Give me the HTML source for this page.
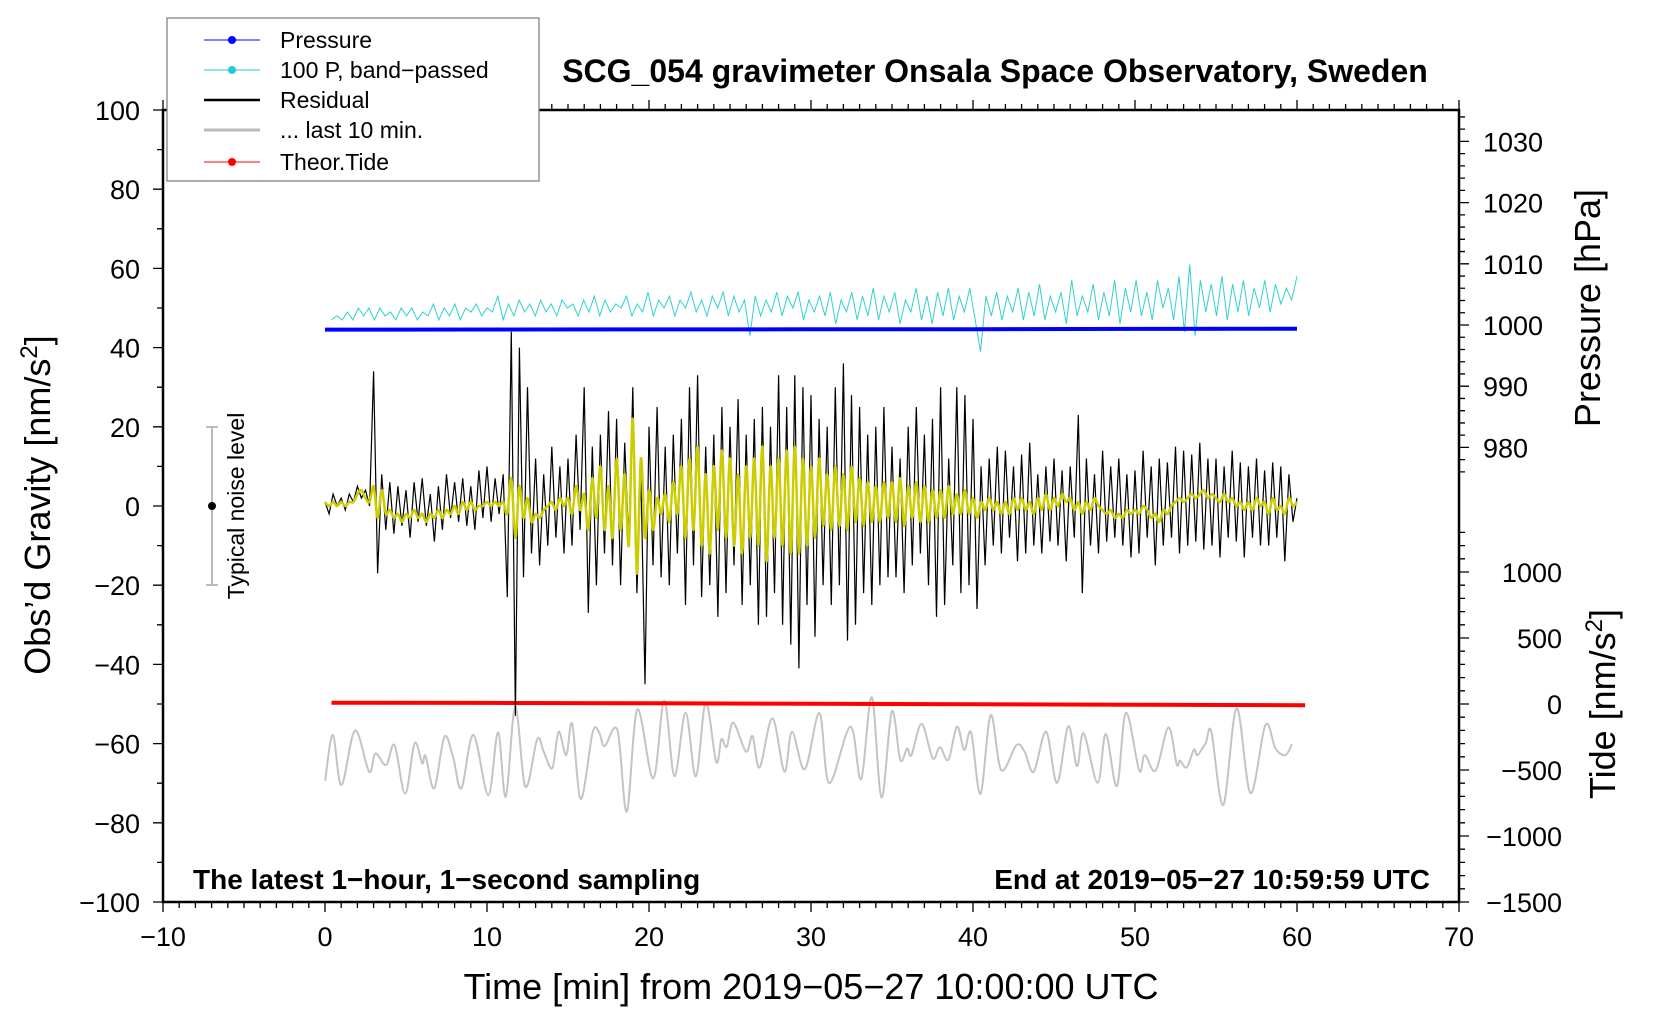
<!DOCTYPE html>
<html><head><meta charset="utf-8"><style>
html,body{margin:0;padding:0;background:#fff;}
svg{display:block;font-family:"Liberation Sans",Arial,sans-serif;}
</style></head><body>
<svg id="chart" width="1660" height="1020" viewBox="0 0 1660 1020" xmlns="http://www.w3.org/2000/svg">
<rect width="1660" height="1020" fill="#fff"/>
<g id="marks"></g>
<g id="axes"></g>
<text x="995" y="82" text-anchor="middle" font-weight="bold" font-size="32">SCG_054 gravimeter Onsala Space Observatory, Sweden</text>
<text x="193" y="889" font-weight="bold" font-size="28">The latest 1−hour, 1−second sampling</text>
<text x="1430" y="889" text-anchor="end" font-weight="bold" font-size="28">End at 2019−05−27 10:59:59 UTC</text>
<text x="811" y="999" text-anchor="middle" font-size="36">Time [min] from 2019−05−27 10:00:00 UTC</text>
<text transform="translate(50,505) rotate(-90)" text-anchor="middle" font-size="36">Obs’d Gravity [nm/s<tspan dy="-13" font-size="24">2</tspan><tspan dy="13">]</tspan></text>
<text transform="translate(1600,308) rotate(-90)" text-anchor="middle" font-size="36">Pressure [hPa]</text>
<text transform="translate(1615,704) rotate(-90)" text-anchor="middle" font-size="36">Tide [nm/s<tspan dy="-13" font-size="24">2</tspan><tspan dy="13">]</tspan></text>
<g>
<line x1="212" y1="427" x2="212" y2="585" stroke="#bbb" stroke-width="2"/>
<line x1="206" y1="427" x2="218" y2="427" stroke="#bbb" stroke-width="2"/>
<line x1="206" y1="585" x2="218" y2="585" stroke="#bbb" stroke-width="2"/>
<circle cx="212" cy="506" r="4" fill="#000"/>
<text transform="translate(244,506) rotate(-90)" text-anchor="middle" font-size="23">Typical noise level</text>
</g>
<g>
<rect x="167" y="18" width="372" height="163" fill="#fff" stroke="#777" stroke-width="1.2"/>
<g><line x1="204" y1="40" x2="260" y2="40" stroke="#0000ff" stroke-width="1"/><circle cx="232" cy="40" r="4" fill="#0000ff"/><text x="280" y="48" font-size="23">Pressure</text></g>
<g><line x1="204" y1="70" x2="260" y2="70" stroke="#20cccc" stroke-width="1"/><circle cx="232" cy="70" r="4" fill="#20cccc"/><text x="280" y="78" font-size="23">100 P, band−passed</text></g>
<g><line x1="204" y1="100" x2="260" y2="100" stroke="#000" stroke-width="2.5"/><text x="280" y="108" font-size="23">Residual</text></g>
<g><line x1="204" y1="130" x2="260" y2="130" stroke="#bbb" stroke-width="3"/><text x="280" y="138" font-size="23">... last 10 min.</text></g>
<g><line x1="204" y1="162" x2="260" y2="162" stroke="#ff0000" stroke-width="1"/><circle cx="232" cy="162" r="4" fill="#ff0000"/><text x="280" y="170" font-size="23">Theor.Tide</text></g>
</g>
</svg>
<script>
// ---- data ----
const residual = [
1,-2,3,0, 2,-1,3,1, 5,2,4,0, 34,-17,8,-6, 6,-7,5,-5, 4,-8,6,-4, 7,-5,3,-9, 5,-6,8,-3, 6,-4,7,-5, 5,-6,9,-3,
10,-4,7,-2, 8,-23,44,-53, 40,-18,30,-12, 12,-15,8,-10, 15,-8,10,-12, 12,-10,18,-6, 30,-27,15,-20, 18,-12,24,-15, 22,-20,16,-10, 30,-22,8,-45,
20,-15,25,-18, 15,-20,18,-12, 22,-25,30,-15, 33,-23,15,-20, 18,-28,25,-22, 20,-15,27,-25, 18,-20,22,-30, 25,-28,20,-22, 33,-30,25,-35, 33,-41,30,-25,
28,-33,22,-20, 20,-25,30,-20, 36,-34,28,-30, 25,-22,18,-25, 20,-20,25,-18, 15,-18,12,-22, 20,-15,25,-12, 18,-20,22,-28, 30,-25,12,-15, 30,-22,28,-20,
22,-26,10,-15, 12,-10,15,-12, 14,-8,10,-14, 13,-12,16,-10, 8,-12,10,-9, 12,-10,9,-14, 10,-8,23,-22, 12,-10,8,-12, 14,-9,10,-8, 12,-10,8,-13,
9,-12,14,-8, 10,-15,12,-10, 11,-8,15,-12, 14,-10,13,-9, 16,-11,12,-10, 12,-13,10,-8, 14,-9,11,-13, 10,-8,12,-10, 9,-10,11,-8, 10,-14,8,-4, 2];
const smoothed = [
1,0,1,0, 1,0,1,1, 3,4,2,1, 5,-3,4,-2, -1,-3,-2,-4, -2,-3,-1,-3, -2,-4,-2,-3, -1,-3,-1,-2, 0,-2,1,-1, 1,-1,0,0,
1,0,1,0, 1,-2,7,-8, 5,-3,2,-4, -2,-3,-1,0, 1,-1,2,0, 2,-2,5,-1, 3,-6,7,-3, 10,-6,5,-8, 12,-6,8,-10, 22,-17,12,-8,
4,-6,2,-2, 3,-4,6,-2, 10,-8,12,-6, 15,-10,8,-12, 10,-6,14,-8, 12,-10,8,-12, 10,-8,12,-10, 15,-14,10,-8, 12,-10,14,-12, 15,-12,12,-10,
10,-8,12,-5, 8,-6,10,-5, 8,-6,10,-4, 7,-5,6,-4, 5,-4,6,-3, 6,-4,7,-5, 5,-3,6,-4, 5,-4,4,-3, 4,-3,5,-2, 3,-2,4,-2,
2,-3,1,-1, 2,-1,1,-2, 1,-2,2,-1, 2,-1,1,-2, 2,-1,3,-1, 2,0,3,1, 2,-1,1,-2, 1,-1,2,0, -1,-2,-1,-3, -2,-3,-1,-2,
-1,-2,0,-1, -3,-2,-4,-1, -2,0,1,2, 1,2,3,2, 3,4,2,3, 2,1,3,1, 2,0,1,-1, 1,-1,2,0, 1,-2,2,-1, 0,-2,2,0, 1];
const bandPassed = [
47,48,47, 49,47,50, 48,50,47, 50,48,49, 47,50,48, 50,47,49, 48,51,47, 50,48,51, 47,50,49, 51,48,50,
49,53,47, 51,48,52, 49,51,48, 52,49,51, 48,52,50, 51,48,52, 49,53,48, 52,49,51, 50,53,48, 51,49,54,
48,52,50, 53,48,52, 50,54,49, 52,48,53, 50,54,48, 53,49,52, 43,53,48, 52,49,54, 48,53,50, 54,47,52,
49,53,48, 54,46,52, 49,54,47, 53,48,55, 47,53,49, 54,46,52, 49,55,47, 53,46,54, 48,55,47, 53,49,55,
47,39,53, 48,54,47, 53,49,55, 47,54,48, 56,47,53, 49,54,46, 57,48,53, 49,56,47, 54,48,57, 46,55,49,
57,48,54, 47,57,50, 55,47,58, 44,61,43, 57,49,56, 48,58,47, 56,49,57, 48,55,50, 57,49,56, 51,55,52, 58];
const pressureT = [0,10,20,30,40,50,60];
const pressureV = [999.25,999.26,999.28,999.3,999.32,999.36,999.4];
const tideT = [0.4,10,20,30,40,50,60.5];
const tideV = [10,8,5,2,-2,-5,-10];
const grayT = [0.01,0.48,1.01,1.85,2.72,3.11,3.77,4.29,4.95,5.53,6.0,6.21,6.74,7.37,7.9,8.42,9.16,10.08,10.68,11.16,11.74,12.37,13.1,13.5,14.03,14.42,14.89,15.26,15.79,16.52,16.92,17.26,18.05,18.63,19.28,20.26,20.94,21.57,22.26,22.89,23.5,24.15,24.47,24.8,25.2,25.99,26.39,26.83,27.62,28.36,28.83,29.62,30.52,31.12,32.43,33.09,33.75,34.35,34.99,35.51,35.93,36.2,36.83,37.51,37.96,38.48,39.01,39.46,39.88,40.46,41.09,41.74,42.67,43.18,43.75,44.51,45.19,45.88,46.42,46.83,47.69,48.2,48.88,49.44,50.26,50.6,51.28,52.06,52.57,52.78,53.19,53.64,53.85,54.36,54.71,55.45,56.27,57.13,58.05,58.67,59.28,59.69];
const grayV = [-69.4,-57.8,-70.5,-56.7,-67.1,-62.5,-65.4,-60.4,-72.7,-59.9,-65,-63.1,-71.3,-58.3,-63.3,-71.3,-57.8,-73,-57.2,-73.4,-50.7,-70.9,-58.9,-62,-66.2,-57,-62.9,-55,-74,-57.2,-57.2,-60.6,-56.6,-77.2,-51.4,-68.8,-49.2,-68.2,-52.2,-68.3,-49.7,-64.6,-58.9,-60.8,-54.7,-62,-58.1,-66,-53.6,-67.1,-57,-66.5,-52.3,-70,-55.7,-69,-48.3,-73.6,-51.9,-64.1,-61.2,-62.9,-55,-63.7,-60.9,-64.1,-55.7,-61.6,-57.2,-72.7,-52.8,-66.7,-60.4,-62,-67.1,-57,-69.9,-55.6,-65.7,-57.4,-69.9,-57.6,-70.7,-52.2,-66.8,-62.9,-66.8,-55.9,-65.2,-64.3,-66,-61.5,-62.9,-59.9,-57,-75.5,-51.1,-72.5,-55.3,-61.2,-62.9,-60.1];
const xTicks = [-10,0,10,20,30,40,50,60,70];
const yTicks = [100,80,60,40,20,0,-20,-40,-60,-80,-100];
const pTicks = [1030,1020,1010,1000,990,980];
const tTicks = [1000,500,0,-500,-1000,-1500];

// ---- axis functions ----
const L=163,R=1459,T=110,B=902;
const xs = t => L + (t+10)*(R-L)/80;
const ys = v => T + (100-v)*(B-T)/200;
const ps = p => 325 - (p-1000)*6.12;
const ts = v => 704 - v*(B-704)/1500;
const NS='http://www.w3.org/2000/svg';
const marks=document.getElementById('marks'), axes=document.getElementById('axes');
function mk(tag, parent){const e=document.createElementNS(NS,tag);parent.appendChild(e);return e;}
function poly(pts){return pts.map((p,i)=>(i?'L':'M')+p[0].toFixed(1)+','+p[1].toFixed(1)).join('');}
function smoothPath(pts){let d='M'+pts[0][0]+','+pts[0][1];for(let i=0;i<pts.length-1;i++){const p0=pts[Math.max(0,i-1)],p1=pts[i],p2=pts[i+1],p3=pts[Math.min(pts.length-1,i+2)];const c1x=p1[0]+(p2[0]-p0[0])/6,c1y=p1[1]+(p2[1]-p0[1])/6,c2x=p2[0]-(p3[0]-p1[0])/6,c2y=p2[1]-(p3[1]-p1[1])/6;d+='C'+c1x.toFixed(1)+','+c1y.toFixed(1)+' '+c2x.toFixed(1)+','+c2y.toFixed(1)+' '+p2[0].toFixed(1)+','+p2[1].toFixed(1);}return d;}

let e=mk('path',marks);


e.setAttribute('d',smoothPath(grayT.map((t,i)=>[xs(t),ys(grayV[i])])));
e.setAttribute('fill','none');e.setAttribute('stroke','#c4c4c4');e.setAttribute('stroke-width','2');
e=mk('path',marks);


e.setAttribute('d',poly(bandPassed.map((v,i)=>[xs(0.4+i/3*(59.6/60)),ys(v)])));
e.setAttribute('fill','none');e.setAttribute('stroke','#30d0d0');e.setAttribute('stroke-width','1');
e=mk('path',marks);


e.setAttribute('d',poly(pressureT.map((t,i)=>[xs(t),ps(pressureV[i])])));
e.setAttribute('fill','none');e.setAttribute('stroke','#0000ff');e.setAttribute('stroke-width','4');
e=mk('path',marks);


e.setAttribute('d',poly(tideT.map((t,i)=>[xs(t),ts(tideV[i])])));
e.setAttribute('fill','none');e.setAttribute('stroke','#ff0000');e.setAttribute('stroke-width','4');
e=mk('path',marks);


e.setAttribute('d',poly(residual.map((v,i)=>[xs(i*60/(residual.length-1)),ys(v)])));
e.setAttribute('fill','none');e.setAttribute('stroke','#000');e.setAttribute('stroke-width','1.2');
e=mk('path',marks);


e.setAttribute('d',smoothPath(smoothed.map((v,i)=>[xs(i*60/(smoothed.length-1)),ys(v)])));
e.setAttribute('fill','none');e.setAttribute('stroke','#cccc00');e.setAttribute('stroke-width','2.5');

// ---- axes ----
let d='';
for(let m=-10;m<=70;m++){const x=xs(m),len=(m%10===0)?10:6;d+=`M${x},${B}v${len}M${x},${T}v${-len}`;}
for(let v=-100;v<=100;v+=10){const y=ys(v),len=(v%20===0)?10:6;d+=`M${L},${y}h${-len}`;}
for(let p=976;p<=1034;p+=2){const y=ps(p);if(y<T||y>B)continue;d+=`M${R},${y}h${p%10===0?10:6}`;}
for(let v=-1500;v<=1300;v+=100){const y=ts(v);d+=`M${R},${y}h${v%500===0?10:6}`;}
e=mk('path',axes);


e.setAttribute('d',d);e.setAttribute('stroke','#000');e.setAttribute('stroke-width','1.3');
e=mk('rect',axes);


e.setAttribute('x',L);e.setAttribute('y',T);e.setAttribute('width',R-L);e.setAttribute('height',B-T);
e.setAttribute('fill','none');e.setAttribute('stroke','#000');e.setAttribute('stroke-width','2.5');
function lab(txt,x,y,anchor,name){const t=mk('text',axes);


t.setAttribute('x',x);t.setAttribute('y',y);t.setAttribute('text-anchor',anchor);t.setAttribute('font-size','27');t.textContent=txt;}
const fmt=v=>String(v).replace('-','−');
xTicks.forEach(v=>lab(fmt(v),xs(v),946,'middle','x-tick-label'));
yTicks.forEach(v=>lab(fmt(v),140,ys(v)+10,'end','y-tick-label'));
pTicks.forEach(v=>lab(fmt(v),1483,ps(v)+10,'start','pressure-tick-label'));
tTicks.forEach(v=>lab(fmt(v),1562,ts(v)+10,'end','tide-tick-label'));
</script>
</body></html>
